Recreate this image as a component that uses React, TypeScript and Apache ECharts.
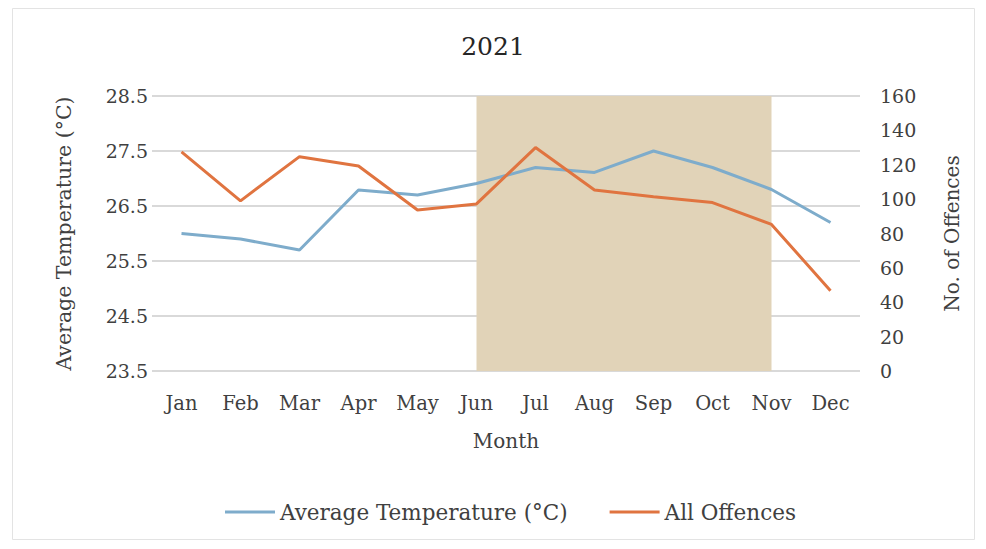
import React, { useEffect, useRef } from "react";
import * as echarts from "echarts";

const months = ["Jan", "Feb", "Mar", "Apr", "May", "Jun", "Jul", "Aug", "Sep", "Oct", "Nov", "Dec"];
const avgTemperature = [26.0, 25.9, 25.7, 26.79, 26.7, 26.91, 27.2, 27.11, 27.5, 27.2, 26.8, 26.2];
const allOffences = [127.5, 99, 124.7, 119.3, 93.7, 97.2, 130, 105.3, 101.4, 98, 85.3, 46.7];
const shadedFrom = "Jun";
const shadedTo = "Nov";

const FONT = "DejaVu Serif";
const TEXT = "#404040";

export default function App() {
  const ref = useRef<HTMLDivElement>(null);
  useEffect(() => {
    document.body.style.margin = "0";
    if (!ref.current) return;
    const chart = echarts.init(ref.current, null, { renderer: "svg" });
    chart.setOption({
      animation: false,
      backgroundColor: "#ffffff",
      textStyle: { fontFamily: FONT, color: TEXT },
      title: {
        text: "2021",
        left: "center",
        top: 29,
        textStyle: { fontFamily: FONT, fontSize: 25, fontWeight: "normal", color: "#262626" },
      },
      graphic: [
        {
          type: "rect",
          shape: { x: 12.5, y: 8.5, width: 962, height: 531 },
          style: { fill: "none", stroke: "#e3e3e3", lineWidth: 1 },
          silent: true,
        },
      ],
      grid: { left: 152, right: 126, top: 96, bottom: 178 },
      legend: {
        bottom: 21,
        left: 220,
        itemWidth: 50,
        itemHeight: 3,
        itemGap: 42,
        icon: "rect",
        textStyle: { fontFamily: FONT, fontSize: 21.5, color: TEXT },
        data: ["Average Temperature (°C)", "All Offences"],
      },
      xAxis: {
        type: "category",
        data: months,
        boundaryGap: true,
        axisLine: { show: false },
        axisTick: { show: false },
        axisLabel: { fontFamily: FONT, fontSize: 19.5, color: TEXT, margin: 22 },
        name: "Month",
        nameLocation: "middle",
        nameGap: 60,
        nameTextStyle: { fontFamily: FONT, fontSize: 20, color: TEXT },
      },
      yAxis: [
        {
          type: "value",
          min: 23.5,
          max: 28.5,
          interval: 1,
          axisLine: { show: false },
          axisTick: { show: false },
          splitLine: { lineStyle: { color: "#d9d9d9", width: 2 } },
          axisLabel: {
            fontFamily: FONT,
            fontSize: 19,
            color: TEXT,
            margin: 4,
            formatter: (v: number) => v.toFixed(1),
          },
          name: "Average Temperature (°C)",
          nameLocation: "middle",
          nameGap: 78,
          nameTextStyle: { fontFamily: FONT, fontSize: 20.5, color: TEXT },
        },
        {
          type: "value",
          min: 0,
          max: 160,
          interval: 20,
          axisLine: { show: false },
          axisTick: { show: false },
          splitLine: { show: false },
          axisLabel: { fontFamily: FONT, fontSize: 19, color: TEXT, margin: 20 },
          name: "No. of Offences",
          nameLocation: "middle",
          nameGap: 82,
          nameRotate: 90,
          nameTextStyle: { fontFamily: FONT, fontSize: 20, color: TEXT },
        },
      ],
      series: [
        {
          name: "Average Temperature (°C)",
          type: "line",
          yAxisIndex: 0,
          data: avgTemperature,
          symbol: "none",
          lineStyle: { color: "#7eaccb", width: 3 },
          itemStyle: { color: "#7eaccb" },
          z: 3,
          markArea: {
            silent: true,
            itemStyle: { color: "#e1d3b8" },
            data: [[{ xAxis: shadedFrom }, { xAxis: shadedTo }]],
          },
        },
        {
          name: "All Offences",
          type: "line",
          yAxisIndex: 1,
          data: allOffences,
          symbol: "none",
          lineStyle: { color: "#e07440", width: 3 },
          itemStyle: { color: "#e07440" },
          z: 4,
        },
      ],
    });
    return () => chart.dispose();
  }, []);
  return <div ref={ref} style={{ width: 986, height: 549 }} />;
}
